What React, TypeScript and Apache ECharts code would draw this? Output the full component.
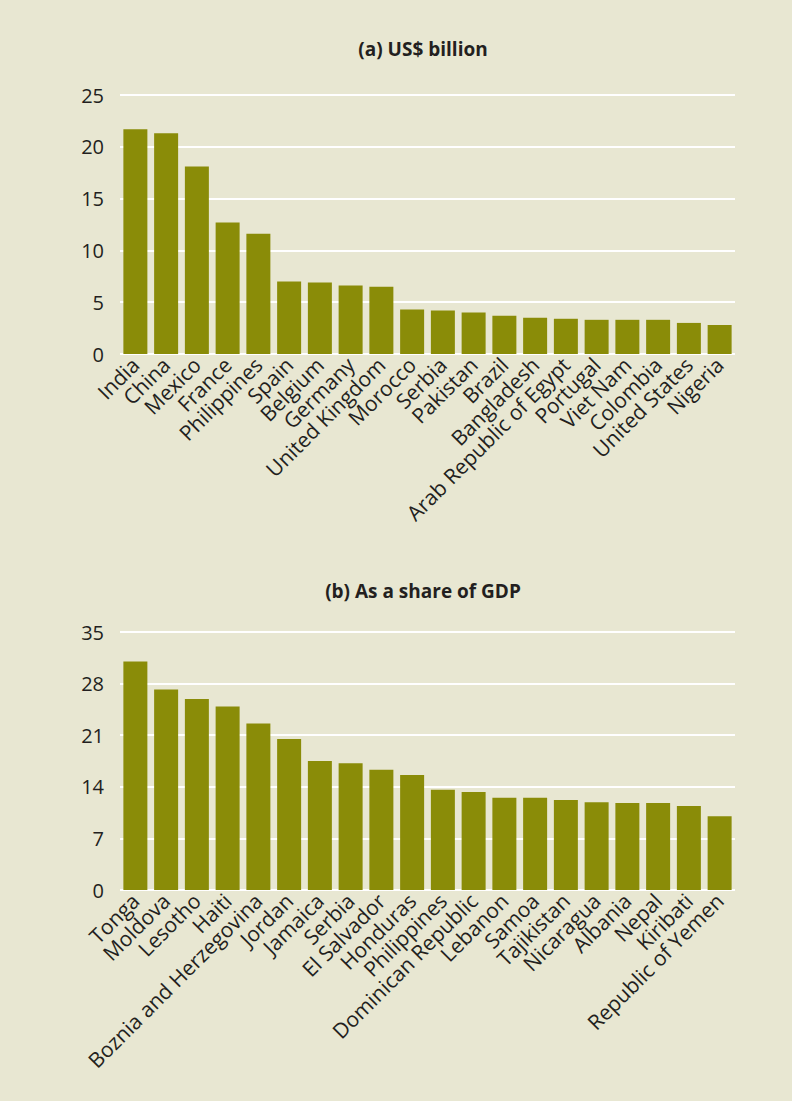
import React, { useEffect, useRef } from "react";
import * as echarts from "echarts";

const countriesA = [
  "India", "China", "Mexico", "France", "Philippines", "Spain", "Belgium", "Germany",
  "United Kingdom", "Morocco", "Serbia", "Pakistan", "Brazil", "Bangladesh",
  "Arab Republic of Egypt", "Portugal", "Viet Nam", "Colombia", "United States", "Nigeria",
];
const valuesA = [21.7, 21.3, 18.1, 12.7, 11.6, 7.0, 6.9, 6.6, 6.5, 4.3, 4.2, 4.0, 3.7, 3.5, 3.4, 3.3, 3.3, 3.3, 3.0, 2.8];

const countriesB = [
  "Tonga", "Moldova", "Lesotho", "Haiti", "Boznia and Herzegovina", "Jordan", "Jamaica",
  "Serbia", "El Salvador", "Honduras", "Philippines", "Dominican Republic", "Lebanon",
  "Samoa", "Tajikistan", "Nicaragua", "Albania", "Nepal", "Kiribati", "Republic of Yemen",
];
const valuesB = [31.0, 27.2, 25.9, 24.9, 22.6, 20.5, 17.5, 17.2, 16.3, 15.6, 13.6, 13.3, 12.5, 12.5, 12.2, 11.9, 11.8, 11.8, 11.4, 10.0];

const titleA = "(a) US$ billion";
const titleB = "(b) As a share of GDP";
const ticksA = { min: 0, max: 25, interval: 5 };
const ticksB = { min: 0, max: 35, interval: 7 };

const BG = "#e8e7d2";
const BAR = "#8a8c08";
const TEXT = "#231f20";
const FONT = "'Open Sans', 'Noto Sans', sans-serif";

export default function App() {
  const ref = useRef<HTMLDivElement>(null);
  useEffect(() => {
    if (!ref.current) return;
    const chart = echarts.init(ref.current, undefined, { renderer: "svg" });
    const xAxisCommon = {
      type: "category" as const,
      axisLine: { show: false },
      axisTick: { show: false },
      axisLabel: {
        rotate: 45,
        interval: 0,
        fontSize: 21,
        color: TEXT,
        fontFamily: FONT,
        margin: 7,
      },
    };
    const yAxisCommon = {
      type: "value" as const,
      axisLine: { show: false },
      axisTick: { show: false },
      axisLabel: { fontSize: 20, color: TEXT, fontFamily: FONT, margin: 16 },
      splitLine: { show: true, lineStyle: { color: "#ffffff", width: 2 } },
    };
    chart.setOption({
      animation: false,
      backgroundColor: BG,
      textStyle: { fontFamily: FONT },
      title: [
        {
          text: titleA,
          left: 418,
          top: 34,
          textAlign: "center",
          textStyle: { fontSize: 19, fontWeight: "bold", color: TEXT, fontFamily: FONT },
        },
        {
          text: titleB,
          left: 418,
          top: 576,
          textAlign: "center",
          textStyle: { fontSize: 19, fontWeight: "bold", color: TEXT, fontFamily: FONT },
        },
      ],
      grid: [
        { left: 120, right: 57, top: 95, height: 259 },
        { left: 120, right: 57, top: 632, height: 258 },
      ],
      xAxis: [
        { ...xAxisCommon, gridIndex: 0, data: countriesA },
        { ...xAxisCommon, gridIndex: 1, data: countriesB },
      ],
      yAxis: [
        { ...yAxisCommon, gridIndex: 0, ...ticksA },
        { ...yAxisCommon, gridIndex: 1, ...ticksB },
      ],
      series: [
        {
          type: "bar",
          xAxisIndex: 0,
          yAxisIndex: 0,
          data: valuesA,
          barCategoryGap: "22%",
          itemStyle: { color: BAR },
        },
        {
          type: "bar",
          xAxisIndex: 1,
          yAxisIndex: 1,
          data: valuesB,
          barCategoryGap: "22%",
          itemStyle: { color: BAR },
        },
      ],
    });
    return () => chart.dispose();
  }, []);
  return (
    <div
      ref={ref}
      style={{ position: "absolute", left: 0, top: 0, width: 792, height: 1101 }}
    />
  );
}
